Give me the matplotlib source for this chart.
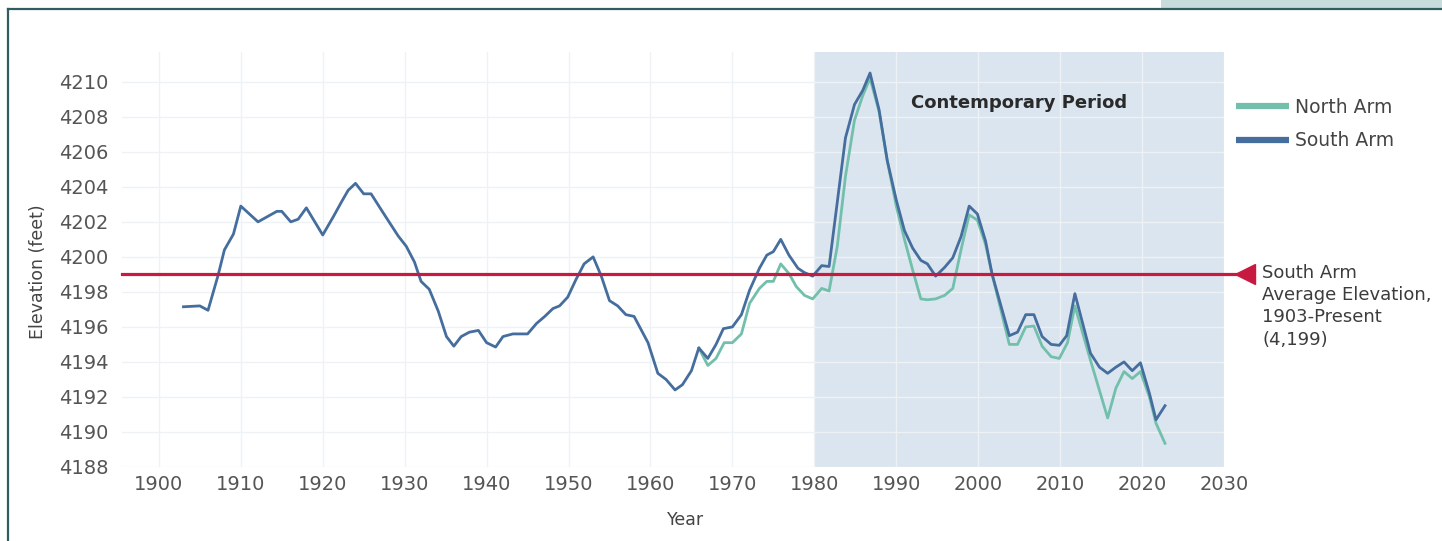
import numpy as np
import matplotlib
matplotlib.use("Agg")
import matplotlib.pyplot as plt
from matplotlib.lines import Line2D
from matplotlib.patches import Rectangle

# data
south_years = [1903.0, 1905.0, 1906.0, 1907.2, 1908.0, 1909.1, 1910.0, 1912.1, 1914.4, 1915.0,
               1916.1, 1917.0, 1918.0, 1920.0, 1921.3, 1922.3, 1923.1, 1924.0, 1925.0, 1925.9,
               1927.4, 1929.2, 1930.2, 1931.2, 1932.0, 1933.0, 1934.1, 1935.1, 1936.0, 1936.9,
               1937.9, 1939.0, 1940.0, 1941.1, 1942.0, 1943.2, 1945.0, 1946.1, 1947.1, 1948.1,
               1948.9, 1949.9, 1950.9, 1951.9, 1953.0, 1954.0, 1955.0, 1956.0, 1957.0, 1958.0,
               1959.7, 1960.9, 1961.9, 1963.0, 1963.9, 1965.0, 1965.9, 1967.0, 1968.0, 1968.9,
               1970.0, 1971.1, 1972.1, 1973.3, 1974.2, 1975.0, 1975.9, 1976.9, 1978.0, 1978.8,
               1979.8, 1980.9, 1981.8, 1983.8, 1984.9, 1985.9, 1986.8, 1987.9, 1988.9, 1990.0,
               1991.0, 1992.0, 1993.0, 1993.8, 1994.8, 1995.9, 1996.9, 1997.9, 1998.9, 1999.9,
               2000.9, 2001.7, 2003.8, 2004.8, 2005.8, 2006.8, 2007.8, 2008.9, 2009.9, 2010.8,
               2011.8, 2013.7, 2014.8, 2015.8, 2016.8, 2017.8, 2018.8, 2019.8, 2020.9, 2021.7,
               2022.8]
south_elev = [4197.15, 4197.2, 4196.95, 4198.9, 4200.4, 4201.3, 4202.9, 4202.0, 4202.6, 4202.6,
              4202.0, 4202.15, 4202.8, 4201.25, 4202.3, 4203.15, 4203.8, 4204.2, 4203.6, 4203.6,
              4202.5, 4201.2, 4200.6, 4199.7, 4198.6, 4198.15, 4196.9, 4195.45, 4194.9, 4195.45,
              4195.7, 4195.8, 4195.1, 4194.85, 4195.45, 4195.6, 4195.6, 4196.2, 4196.6, 4197.05,
              4197.2, 4197.7, 4198.7, 4199.6, 4200.0, 4198.9, 4197.5, 4197.2, 4196.7, 4196.6,
              4195.1, 4193.35, 4193.0, 4192.4, 4192.7, 4193.5, 4194.8, 4194.2, 4195.0, 4195.9,
              4196.0, 4196.7, 4198.1, 4199.35, 4200.1, 4200.3, 4201.0, 4200.1, 4199.35, 4199.1,
              4198.9, 4199.5, 4199.45, 4206.8, 4208.7, 4209.5, 4210.5, 4208.4, 4205.5, 4203.25,
              4201.5, 4200.5, 4199.8, 4199.6, 4198.9, 4199.4, 4199.95, 4201.15, 4202.9, 4202.45,
              4200.9, 4199.0, 4195.5, 4195.7, 4196.7, 4196.7, 4195.45, 4195.0, 4194.95, 4195.5,
              4197.9, 4194.5, 4193.7, 4193.35, 4193.7, 4194.0, 4193.5, 4193.95, 4192.2, 4190.7,
              4191.5]

north_years = [1965.9, 1967.0, 1968.0, 1969.0, 1970.0, 1971.1, 1972.1, 1973.3, 1974.2, 1975.0,
               1975.9, 1976.9, 1977.8, 1978.8, 1979.8, 1980.9, 1981.8, 1982.8, 1983.8, 1984.9,
               1985.9, 1986.8, 1987.9, 1988.9, 1990.0, 1991.0, 1992.0, 1993.0, 1993.8, 1994.8,
               1995.9, 1996.9, 1997.9, 1998.9, 1999.9, 2000.9, 2001.7, 2003.8, 2004.8, 2005.8,
               2006.8, 2007.8, 2008.9, 2009.9, 2010.9, 2011.8, 2013.7, 2015.8, 2016.8, 2017.8,
               2018.8, 2019.8, 2020.9, 2021.7, 2022.8]
north_elev = [4194.8, 4193.8, 4194.2, 4195.1, 4195.1, 4195.6, 4197.35, 4198.2, 4198.6, 4198.6,
              4199.6, 4199.05, 4198.3, 4197.8, 4197.6, 4198.2, 4198.05, 4200.6, 4204.6, 4207.8,
              4209.2, 4210.2, 4208.3, 4205.5, 4202.9, 4201.0, 4199.25, 4197.6, 4197.55, 4197.6,
              4197.8, 4198.2, 4200.4, 4202.4, 4202.1, 4200.7, 4199.0, 4195.0, 4195.0, 4196.0,
              4196.05, 4194.9, 4194.3, 4194.2, 4195.1, 4197.2, 4194.1, 4190.8, 4192.5, 4193.45,
              4193.05, 4193.45, 4192.0, 4190.5, 4189.35]

south_avg = 4199
period_start, period_end = 1980, 2030
x_ticks = list(range(1900, 2031, 10))
y_ticks = list(range(4188, 4211, 2))

SOUTH = "#456d9d"
NORTH = "#72c0ab"
RED = "#c81a40"
SHADE = "#dbe5f0"
GREY = "#555555"

W, H = 1442, 541
fig = plt.figure(figsize=(W / 100, H / 100), dpi=100)
ax = fig.add_axes([122 / W, 1 - 467 / H, 1102 / W, 415 / H])

ax.axvspan(period_start, period_end, color=SHADE, zorder=0.2, lw=0)
ax.plot(north_years, north_elev, color=NORTH, lw=2.0, zorder=3)
ax.plot(south_years, south_elev, color=SOUTH, lw=2.0, zorder=4)

# average line runs past the axes to the marker
ax.plot([1895.5, 2031.8], [south_avg, south_avg], color=RED, lw=2.3, clip_on=False, zorder=5)
ax.plot([2032.6], [south_avg], marker="<", ms=14.5, color=RED, mec=RED, clip_on=False, zorder=5)

ax.set_xlim(1895.5, 2030)
ax.set_ylim(4188, 4211.7)
ax.set_xticks(x_ticks)
ax.set_yticks(y_ticks)
ax.set_axisbelow(True)
ax.grid(True, color="#eef2f5", lw=1.0)
for s in ax.spines.values():
    s.set_visible(False)
ax.tick_params(length=0, labelsize=14, labelcolor=GREY)
ax.tick_params(axis="y", pad=10)
ax.tick_params(axis="x", pad=6)

ax.text(1991.8, 4208.8, "Contemporary Period", fontsize=13, fontweight="bold",
        color="#2a2a2a", va="center", ha="left")

fig.text(38 / W, 1 - 272 / H, "Elevation (feet)", rotation=90, fontsize=12.5,
         color="#444444", ha="center", va="center")
fig.text(686 / W, 1 - 520 / H, "Year", fontsize=12.5, color="#444444",
         ha="center", va="center")
fig.text(1262 / W, 1 - 264 / H, "South Arm\nAverage Elevation,\n1903-Present\n(4,199)",
         fontsize=13, color="#3c3c3c", ha="left", va="top", linespacing=1.3)

handles = [Line2D([], [], color=NORTH, lw=4.5, solid_capstyle="butt"),
           Line2D([], [], color=SOUTH, lw=4.5, solid_capstyle="butt")]
ax.legend(handles, ["North Arm", "South Arm"], loc="upper left",
          bbox_to_anchor=(1236 / W, 1 - 98 / H), bbox_transform=fig.transFigure,
          frameon=False, fontsize=13.5, handlelength=2.8, handletextpad=0.35,
          labelspacing=0.75, borderpad=0, borderaxespad=0, labelcolor="#444444")

# page frame
fig.add_artist(Rectangle((1161 / W, 1 - 8 / H), (W - 1161) / W, 8 / H,
                         transform=fig.transFigure, color="#c8dcdc", lw=0))
fig.add_artist(Line2D([8 / W, 1], [1 - 9 / H, 1 - 9 / H], transform=fig.transFigure,
                      color="#2f5d62", lw=1.6))
fig.add_artist(Line2D([8 / W, 8 / W], [0, 1 - 9 / H], transform=fig.transFigure,
                      color="#2f5d62", lw=1.6))

fig.savefig("out.png", dpi=100)
